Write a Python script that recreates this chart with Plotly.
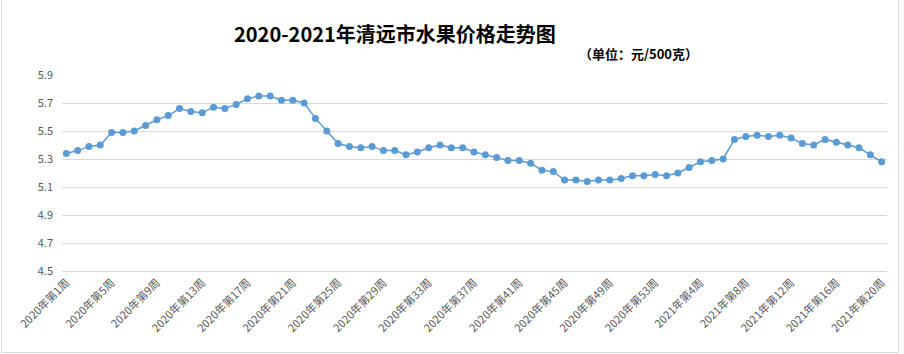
import plotly.graph_objects as go

weeks_2020 = [f"2020年第{i}周" for i in range(1, 54)]
weeks_2021 = [f"2021年第{i}周" for i in range(1, 21)]
categories = weeks_2020 + weeks_2021

prices = [
    5.34, 5.36, 5.39, 5.40, 5.49, 5.49, 5.50, 5.54, 5.58, 5.61,
    5.66, 5.64, 5.63, 5.67, 5.66, 5.69, 5.73, 5.75, 5.75, 5.72,
    5.72, 5.70, 5.59, 5.50, 5.41, 5.39, 5.38, 5.39, 5.36, 5.36,
    5.33, 5.35, 5.38, 5.40, 5.38, 5.38, 5.35, 5.33, 5.31, 5.29,
    5.29, 5.27, 5.22, 5.21, 5.15, 5.15, 5.14, 5.15, 5.15, 5.16,
    5.18, 5.18, 5.19, 5.18, 5.20, 5.24, 5.28, 5.29, 5.30, 5.44,
    5.46, 5.47, 5.46, 5.47, 5.45, 5.41, 5.40, 5.44, 5.42, 5.40,
    5.38, 5.33, 5.28,
]

tick_labels = categories[::4]
y_ticks = [4.5, 4.7, 4.9, 5.1, 5.3, 5.5, 5.7, 5.9]

title_text = "2020-2021年清远市水果价格走势图"
unit_text = "（单位：元/500克）"

font_family = "Noto Sans CJK SC"
label_color = "#595959"

PLOT_L, PLOT_T, PLOT_W, PLOT_H = 62, 75, 825, 196


def px_x(x):
    return (x - PLOT_L) / PLOT_W


def px_y(y):
    return 1 - (y - PLOT_T) / PLOT_H


fig = go.Figure()
fig.add_trace(go.Scatter(
    x=categories, y=prices, mode="lines+markers",
    line=dict(color="#5B9BD5", width=1.5),
    marker=dict(color="#5B9BD5", size=7),
    hoverinfo="x+y", showlegend=False,
))

fig.update_layout(
    width=904, height=354,
    margin=dict(l=PLOT_L, r=904 - PLOT_L - PLOT_W, t=PLOT_T, b=354 - PLOT_T - PLOT_H),
    paper_bgcolor="white", plot_bgcolor="white",
    font=dict(family=font_family, size=11, color=label_color),
    xaxis=dict(
        type="category", range=[-0.38, 72.47],
        tickmode="array", tickvals=tick_labels, ticktext=tick_labels,
        tickangle=-45, showgrid=False, showline=True,
        linecolor="#D9D9D9", linewidth=1, ticks="",
        tickfont=dict(size=11, color=label_color),
    ),
    yaxis=dict(
        range=[4.5, 5.9], tickmode="array", tickvals=y_ticks,
        ticktext=[f"{v:.1f}" for v in y_ticks],
        showgrid=True, gridcolor="#D9D9D9", gridwidth=1,
        zeroline=False, showline=False, ticks="",
        ticklabelstandoff=8,
        tickfont=dict(size=11, color=label_color),
    ),
    shapes=[dict(type="rect", xref="paper", yref="paper",
                 x0=px_x(1.5), x1=px_x(898.5), y0=px_y(352.5), y1=px_y(-2),
                 line=dict(color="#D9D9D9", width=1))],
    annotations=[
        dict(text=f"<b>{title_text}</b>", xref="paper", yref="paper",
             x=px_x(395), y=px_y(33), xanchor="center", yanchor="middle",
             showarrow=False, font=dict(size=20, color="black", family=font_family)),
        dict(text=f"<b>{unit_text}</b>", xref="paper", yref="paper",
             x=px_x(638), y=px_y(53), xanchor="center", yanchor="middle",
             showarrow=False, font=dict(size=13, color="black", family=font_family)),
    ],
)

fig.write_html("out.html")
